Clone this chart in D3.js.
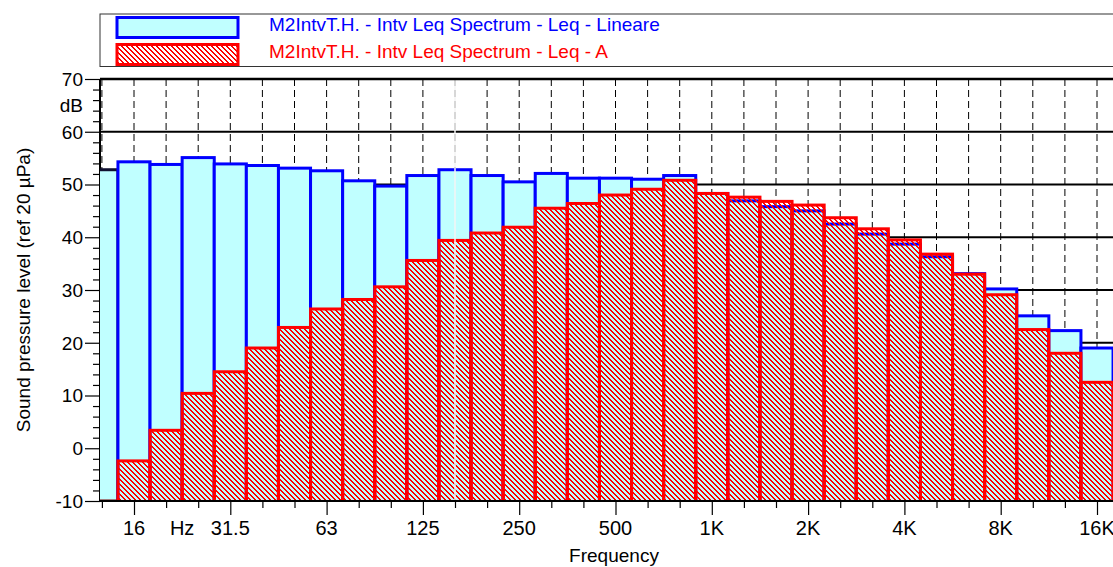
<!DOCTYPE html>
<html>
<head>
<meta charset="utf-8">
<script src="https://cdn.jsdelivr.net/npm/d3@7/dist/d3.min.js"></script>
<style>
  body { margin: 0; background: #fff; }
  svg { display: block; font-family: Arial, "Liberation Sans", sans-serif; }
</style>
</head>
<body>
<svg id="chart"></svg>
<script>
// third-octave bands (nominal labels)
const bands = ["12.5", "16", "20", "25", "31.5", "40", "50", "63", "80", "100",
  "125", "160", "200", "250", "315", "400", "500", "630", "800", "1K",
  "1.25K", "1.6K", "2K", "2.5K", "3.15K", "4K", "5K", "6.3K", "8K", "10K",
  "12.5K", "16K"];

// Leq - Lineare (dB)
const linearLeq = [52.8, 54.3, 53.8, 55.1, 53.9, 53.6, 53.1, 52.6, 50.7, 49.7,
  51.7, 52.8, 51.7, 50.5, 52.1, 51.2, 51.2, 51.0, 51.7, 48.3,
  46.9, 45.8, 45.0, 42.5, 40.6, 38.7, 36.3, 33.1, 30.2, 25.1,
  22.3, 19.0];

// Leq - A (dB)
const aLeq = [-10.6, -2.4, 3.4, 10.4, 14.5, 19.0, 22.9, 26.4, 28.2, 30.6,
  35.6, 39.4, 40.8, 41.9, 45.5, 46.4, 48.0, 49.1, 50.8, 48.3,
  47.6, 46.8, 46.1, 43.7, 41.6, 39.5, 36.8, 33.0, 29.1, 22.5,
  18.0, 12.5];

const xTickLabels = ["16", "31.5", "63", "125", "250", "500", "1K", "2K", "4K", "8K", "16K"];
const yTickValues = [-10, 0, 10, 20, 30, 40, 50, 60, 70];
const gridValues = [0, 10, 20, 30, 40, 50, 60];
const cursorBand = "160";

const seriesNames = [
  "M2IntvT.H. - Intv Leq Spectrum - Leq - Lineare",
  "M2IntvT.H. - Intv Leq Spectrum - Leq - A"
];

const W = 1113, H = 567;
const margin = { top: 79, left: 100, bottom: 66 };
const plotRight = 1125;
const plotBottom = H - margin.bottom;

const svg = d3.select("#chart").attr("width", W).attr("height", H);

// base-2 third-octave centre frequency of band i (1K = index 19)
const fc = (i) => 1000 * Math.pow(2, (i - bands.indexOf("1K")) / 3);

const x = d3.scaleLog().base(2)
  .domain([fc(1), fc(bands.length - 1)])
  .range([134, 1097]);

const y = d3.scaleLinear().domain([-10, 70]).range([plotBottom, margin.top]);

const defs = svg.append("defs");
defs.append("clipPath").attr("id", "plotClip")
  .append("rect")
  .attr("x", margin.left).attr("y", margin.top)
  .attr("width", plotRight - margin.left)
  .attr("height", plotBottom - margin.top);

// pixel hatch: red diagonal steps, transparent between them
const hatchSize = 5;
const hatch = defs.append("pattern")
  .attr("id", "hatch")
  .attr("patternUnits", "userSpaceOnUse")
  .attr("width", hatchSize).attr("height", hatchSize);
hatch.selectAll("rect")
  .data(d3.range(hatchSize))
  .enter()
  .append("rect")
  .attr("x", (k) => k).attr("y", (k) => k)
  .attr("width", (k) => (k === hatchSize - 1 ? 1 : 2)).attr("height", 1)
  .attr("fill", "#ff0000")
  .attr("shape-rendering", "crispEdges");
hatch.append("rect")
  .attr("x", 0).attr("y", hatchSize - 1)
  .attr("width", 1).attr("height", 1)
  .attr("fill", "#ff0000")
  .attr("shape-rendering", "crispEdges");

// Legend
const legend = svg.append("g");
legend.append("rect")
  .attr("x", margin.left).attr("y", 14)
  .attr("width", 1100).attr("height", 52.5)
  .attr("fill", "#fff")
  .attr("stroke", "#333").attr("stroke-width", 1);

const legendItems = [
  { name: seriesNames[0], fill: "#c0ffff", stroke: "#0000ff", color: "#0000ff" },
  { name: seriesNames[1], fill: "url(#hatch)", stroke: "#ff0000", color: "#ff0000" }
];
legendItems.forEach((d, i) => {
  legend.append("rect")
    .attr("x", 117).attr("y", 17.5 + i * 27)
    .attr("width", 121).attr("height", 20)
    .attr("fill", d.fill)
    .attr("stroke", d.stroke).attr("stroke-width", 3);
  legend.append("text")
    .attr("x", 269).attr("y", 31 + i * 27)
    .attr("fill", d.color)
    .style("font-size", "19px")
    .text(d.name);
});

const plot = svg.append("g");

// vertical dashed grid at band centres
plot.append("g")
  .attr("clip-path", "url(#plotClip)")
  .selectAll("line")
  .data(bands.map((b, i) => i))
  .enter()
  .append("line")
  .attr("x1", (i) => x(fc(i))).attr("x2", (i) => x(fc(i)))
  .attr("y1", margin.top).attr("y2", plotBottom)
  .attr("stroke", "#000")
  .attr("stroke-width", 1)
  .attr("stroke-dasharray", "7,4");

// horizontal grid
plot.append("g")
  .selectAll("line")
  .data(gridValues)
  .enter()
  .append("line")
  .attr("x1", margin.left).attr("x2", plotRight)
  .attr("y1", (d) => y(d)).attr("y2", (d) => y(d))
  .attr("stroke", "#000")
  .attr("stroke-width", 2);

// left frame line
plot.append("line")
  .attr("x1", margin.left).attr("x2", margin.left)
  .attr("y1", margin.top).attr("y2", plotBottom)
  .attr("stroke", "#000").attr("stroke-width", 2);

const bars = plot.append("g").attr("clip-path", "url(#plotClip)");
const bandLo = (i) => x(fc(i) * Math.pow(2, -1 / 6));
const bandHi = (i) => x(fc(i) * Math.pow(2, 1 / 6));

// Lineare bars
bars.append("g")
  .selectAll("rect")
  .data(linearLeq)
  .enter()
  .append("rect")
  .attr("x", (d, i) => bandLo(i))
  .attr("width", (d, i) => bandHi(i) - bandLo(i))
  .attr("y", (d) => y(d))
  .attr("height", (d) => y(-12) - y(d))
  .attr("fill", "#c0ffff")
  .attr("stroke", (d, i) => (i === 0 ? "#101030" : "#0000ff"))
  .attr("stroke-width", 3);

// A-weighted bars
bars.append("g")
  .selectAll("rect")
  .data(aLeq)
  .enter()
  .append("rect")
  .attr("x", (d, i) => bandLo(i))
  .attr("width", (d, i) => bandHi(i) - bandLo(i))
  .attr("y", (d) => y(Math.max(d, -10)))
  .attr("height", (d) => y(-12) - y(Math.max(d, -10)))
  .attr("fill", "url(#hatch)")
  .attr("stroke", (d, i) => (i === 0 ? "#800000" : "#ff0000"))
  .attr("stroke-width", 3);

// cursor line
const ci = bands.indexOf(cursorBand);
plot.append("line")
  .attr("x1", x(fc(ci))).attr("x2", x(fc(ci)))
  .attr("y1", margin.top).attr("y2", plotBottom)
  .attr("stroke", "#f4f4f4").attr("stroke-width", 1.5);

// top frame
plot.append("line")
  .attr("x1", margin.left).attr("x2", plotRight)
  .attr("y1", margin.top).attr("y2", margin.top)
  .attr("stroke", "#000").attr("stroke-width", 2.5);

// Y axis
const yAxis = svg.append("g")
  .attr("transform", `translate(${margin.left},0)`)
  .call(d3.axisLeft(y).ticks(40).tickSize(7).tickFormat(""));
yAxis.select(".domain").remove();
yAxis.selectAll(".tick line").attr("stroke", "#000").attr("stroke-width", 1.2);
yAxis.selectAll(".tick")
  .filter((d) => yTickValues.includes(d))
  .select("line").attr("x2", -15);

svg.append("g")
  .selectAll("text")
  .data(yTickValues)
  .enter()
  .append("text")
  .attr("x", 83)
  .attr("y", (d) => y(d))
  .attr("dy", "0.36em")
  .attr("text-anchor", "end")
  .style("font-size", "19px")
  .text((d) => d);

svg.append("text")
  .attr("x", 83).attr("y", y(65))
  .attr("dy", "0.36em")
  .attr("text-anchor", "end")
  .style("font-size", "19px")
  .text("dB");

svg.append("text")
  .attr("transform", `translate(30,${(margin.top + plotBottom) / 2}) rotate(-90)`)
  .attr("text-anchor", "middle")
  .style("font-size", "19px")
  .text("Sound pressure level (ref 20 µPa)");

// X axis
const xAxis = svg.append("g")
  .attr("transform", `translate(0,${plotBottom})`)
  .call(d3.axisBottom(x)
    .tickValues(bands.map((b, i) => fc(i)))
    .tickSize(7)
    .tickFormat(""));
xAxis.select(".domain")
  .attr("d", `M${margin.left},0H${plotRight}`)
  .attr("stroke", "#000").attr("stroke-width", 2);
xAxis.selectAll(".tick line").attr("stroke", "#000").attr("stroke-width", 1.2);
xAxis.selectAll(".tick")
  .filter((d, i) => xTickLabels.includes(bands[i]))
  .select("line").attr("y2", 14);

svg.append("g")
  .selectAll("text")
  .data(xTickLabels)
  .enter()
  .append("text")
  .attr("x", (d) => x(fc(bands.indexOf(d))))
  .attr("y", 535)
  .attr("text-anchor", "middle")
  .style("font-size", "20px")
  .text((d) => d);

svg.append("text")
  .attr("x", x(Math.sqrt(fc(bands.indexOf("20")) * fc(bands.indexOf("25")))))
  .attr("y", 535)
  .attr("text-anchor", "middle")
  .style("font-size", "20px")
  .text("Hz");

svg.append("text")
  .attr("x", 614).attr("y", 562)
  .attr("text-anchor", "middle")
  .style("font-size", "19px")
  .text("Frequency");
</script>
</body>
</html>
